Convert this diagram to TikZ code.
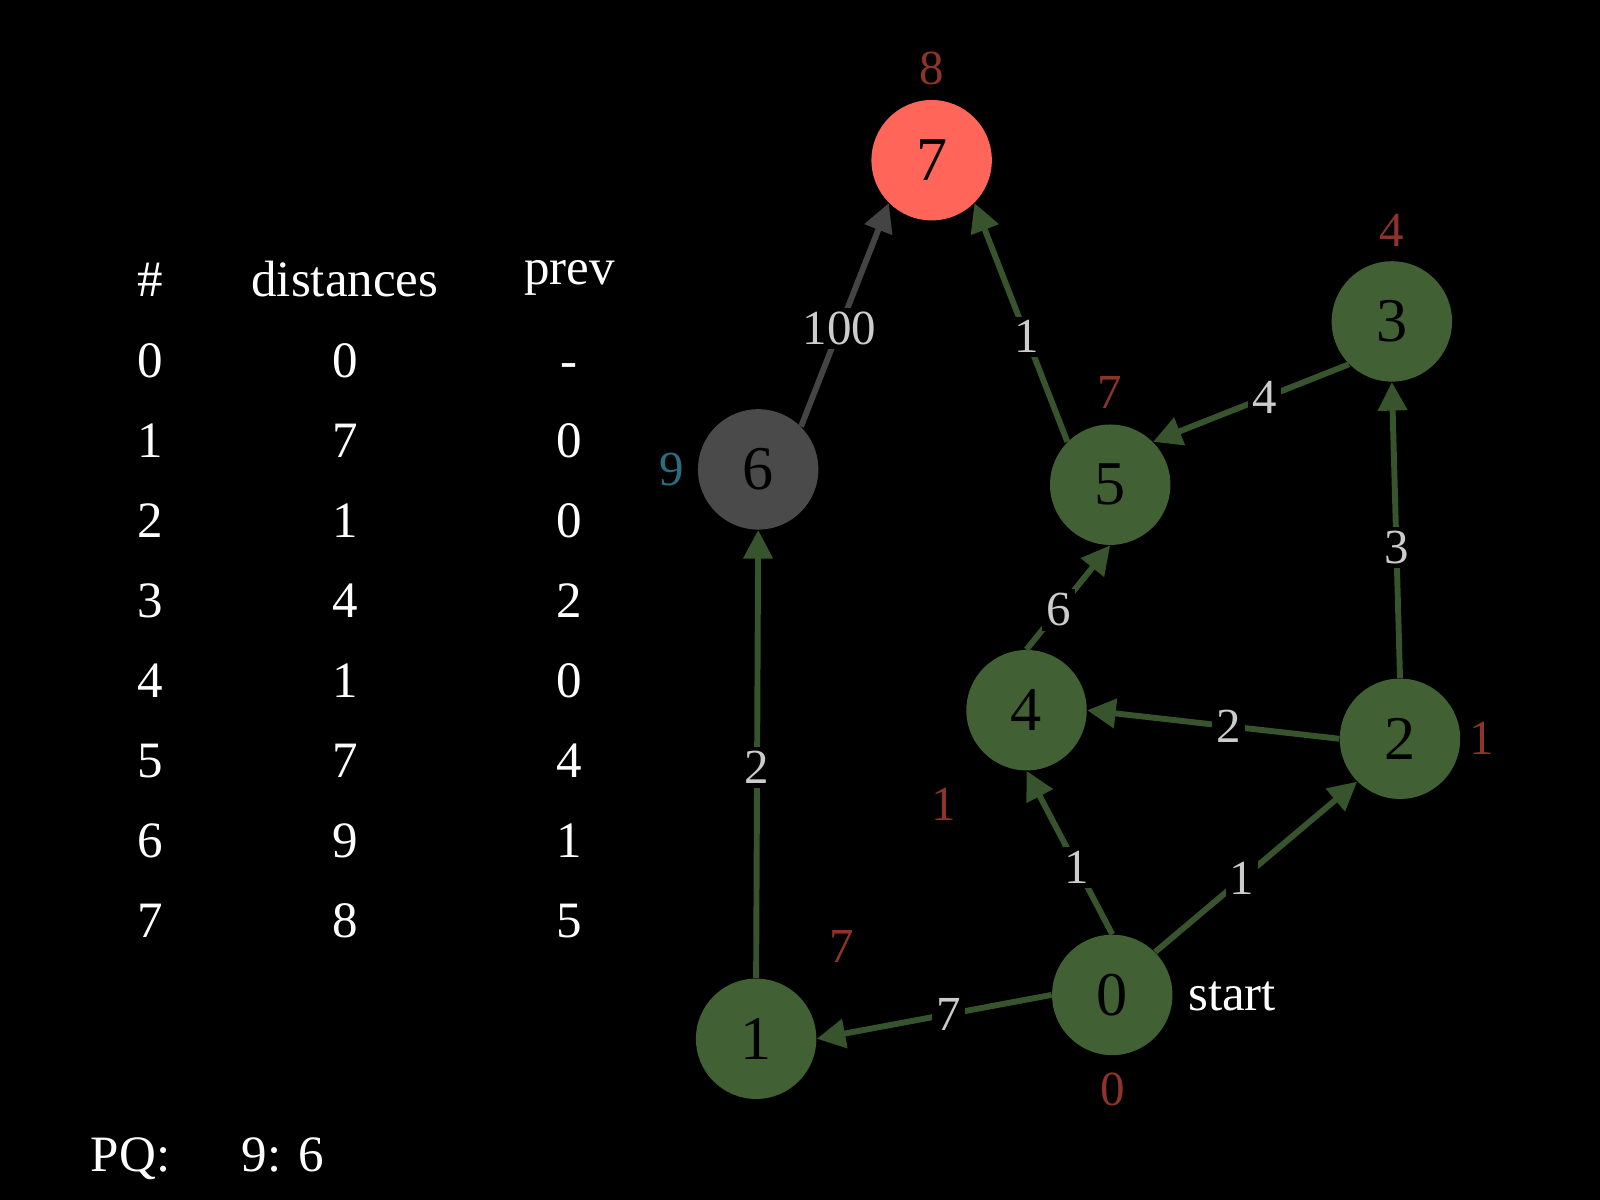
\documentclass[tikz,border=0pt]{standalone}
\usepackage{fontspec}
\setmainfont{Liberation Serif}
\usepackage{tikz}
\usetikzlibrary{arrows.meta}
\definecolor{visitgreen}{RGB}{65,96,52}
\definecolor{edgegreen}{RGB}{55,84,45}
\definecolor{currred}{RGB}{255,102,89}
\definecolor{queuegray}{RGB}{74,74,74}
\definecolor{arcgray}{RGB}{68,68,68}
\definecolor{distred}{RGB}{140,52,42}
\definecolor{distblue}{RGB}{42,108,128}
\definecolor{wgray}{RGB}{204,204,204}

\begin{document}
\begin{tikzpicture}[
  x=0.5pt, y=-0.5pt,
  every node/.style={font=\fontsize{25}{30}\selectfont, text=white},
  vertex/.style={circle, minimum size=59pt, inner sep=0pt, fill=visitgreen,
                 text=black, font=\fontsize{30.5}{36}\selectfont},
  vertexCur/.style={vertex, fill=currred},
  vertexQ/.style={vertex, fill=queuegray},
  arc/.style={-{Triangle[length=14pt, width=14pt]}, line width=2.9pt, edgegreen},
  arcQ/.style={arc, arcgray},
  weight/.style={fill=black, inner sep=2pt, text=wgray,
                 font=\fontsize{24}{28}\selectfont},
  dist/.style={text=distred, font=\fontsize{24}{28}\selectfont},
  cell/.style={anchor=base, inner sep=0pt},
]

%% ── Background ──────────────────────────────────────────────────────────────
\fill[black] (0,0) rectangle (1568,1176);
\useasboundingbox (0,0) rectangle (1568,1176);

%% ── Table ───────────────────────────────────────────────────────────────────
\node[cell] (hnum)  at (147,291) {\#};
\node[cell] (hdist) at (338,291) {distances};
\node[cell] (hprev) at (558,279) {prev};

\node[cell] (r0a) at (147,369.5) {0}; \node[cell] (r0b) at (338,369.5) {0}; \node[cell] (r0c) at (558,369.5) {-};
\node[cell] (r1a) at (147,447.9) {1}; \node[cell] (r1b) at (338,447.9) {7}; \node[cell] (r1c) at (558,447.9) {0};
\node[cell] (r2a) at (147,526.3) {2}; \node[cell] (r2b) at (338,526.3) {1}; \node[cell] (r2c) at (558,526.3) {0};
\node[cell] (r3a) at (147,604.7) {3}; \node[cell] (r3b) at (338,604.7) {4}; \node[cell] (r3c) at (558,604.7) {2};
\node[cell] (r4a) at (147,683.1) {4}; \node[cell] (r4b) at (338,683.1) {1}; \node[cell] (r4c) at (558,683.1) {0};
\node[cell] (r5a) at (147,761.5) {5}; \node[cell] (r5b) at (338,761.5) {7}; \node[cell] (r5c) at (558,761.5) {4};
\node[cell] (r6a) at (147,839.9) {6}; \node[cell] (r6b) at (338,839.9) {9}; \node[cell] (r6c) at (558,839.9) {1};
\node[cell] (r7a) at (147,918.3) {7}; \node[cell] (r7b) at (338,918.3) {8}; \node[cell] (r7c) at (558,918.3) {5};

%% ── Priority queue ──────────────────────────────────────────────────────────
\node[cell] (pq)    at (128,1148) {PQ:};
\node[cell] (pqval) at (277,1148) {9: 6};

%% ── Vertices ────────────────────────────────────────────────────────────────
\node[vertex]    (n0) at (1090,975) {0};
\node[vertex]    (n1) at (741,1018) {1};
\node[vertex]    (n2) at (1372,724) {2};
\node[vertex]    (n3) at (1364,315) {3};
\node[vertex]    (n4) at (1006,696) {4};
\node[vertex]    (n5) at (1088,475) {5};
\node[vertexQ]   (n6) at (743,460)  {6};
\node[vertexCur] (n7) at (913,157)  {7};

\node[cell, anchor=base west] (start) at (1164,990) {start};

%% ── Distance labels ─────────────────────────────────────────────────────────
\node[dist] (d0) at (1090,1068) {0};
\node[dist] (d1) at (825,928)   {7};
\node[dist] (d2) at (1452,724)  {1};
\node[dist] (d3) at (1364,226)  {4};
\node[dist] (d4) at (925,788)   {1};
\node[dist] (d5) at (1088,385)  {7};
\node[dist, text=distblue] (d6) at (658,460) {9};
\node[dist] (d7) at (913,67)    {8};

%% ── Edges (compass ports) ───────────────────────────────────────────────────
\draw[arc]  (n0.west)       -- node[weight, pos=0.44] {7}   (n1.east);
\draw[arc]  (n0.north)      -- node[weight, pos=0.41] {1}   (n4.south);
\draw[arc]  (n0.north east) -- node[weight, pos=0.43] {1}   (n2.south west);
\draw[arc]  (n2.west)       -- node[weight, pos=0.44] {2}   (n4.east);
\draw[arc]  (n2.north)      -- node[weight, pos=0.44] {3}   (n3.south);
\draw[arc]  (n3.south west) -- node[weight, pos=0.43] {4}   (n5.north east);
\draw[arc]  (n4.north)      -- node[weight, pos=0.38] {6}   (n5.south);
\draw[arc]  (n5.north west) -- node[weight, pos=0.44] {1}   (n7.south east);
\draw[arc]  (n1.north)      -- node[weight, pos=0.47] {2}   (n6.south);
\draw[arcQ] (n6.north east) -- node[weight, pos=0.44] {100} (n7.south west);

\end{tikzpicture}
\end{document}
